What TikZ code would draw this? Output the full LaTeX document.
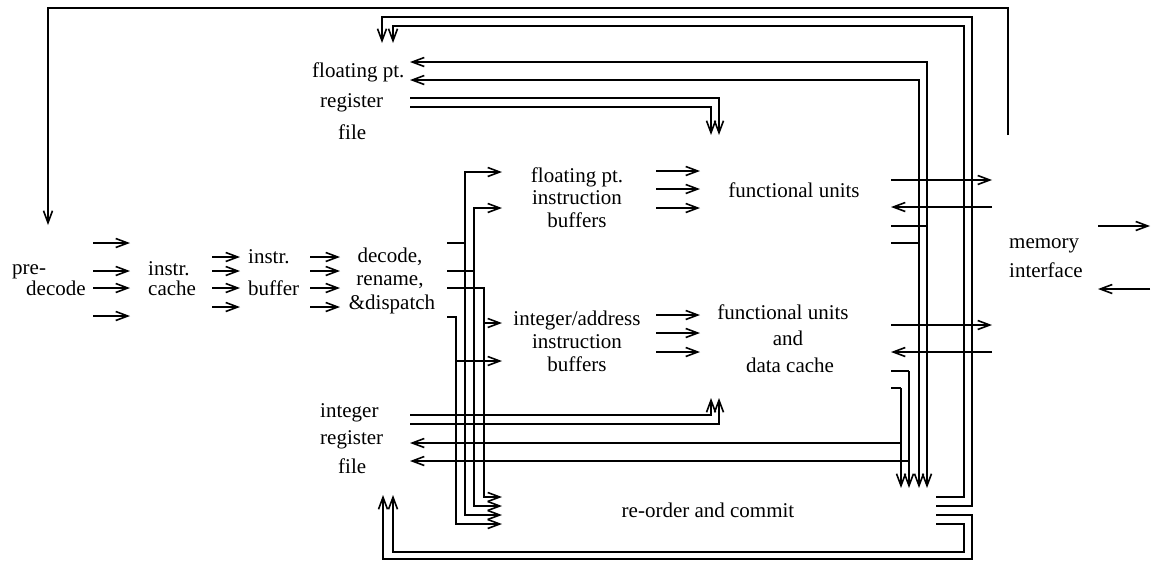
\documentclass[tikz,border=0pt]{standalone}
\usepackage{fontspec}
\setmainfont{Liberation Serif}
\usetikzlibrary{arrows.meta}
\begin{document}
\begin{tikzpicture}[x=1pt,y=-1pt,
  wire/.style={line width=1.6pt},
  arr/.style={wire,-{Straight Barb[length=12pt,width=9pt,line width=1.6pt]}},
  lbl/.style={font=\fontsize{21}{24}\selectfont,inner sep=0pt,anchor=base},
  lblw/.style={lbl,anchor=base west}]
\useasboundingbox (0,0) rectangle (1151,560);
\fill[white] (0,0) rectangle (1151,560);

% ---- text nodes ----
\node[lblw] (pre1) at (12,274) {pre-};
\node[lblw] (pre2) at (26,295) {decode};
\node[lblw] (ic1) at (148,275) {instr.};
\node[lblw] (ic2) at (148,295) {cache};
\node[lblw] (ib1) at (248,263) {instr.};
\node[lblw] (ib2) at (248,295) {buffer};
\node[lbl] (dd1) at (390,262) {decode,};
\node[lbl] (dd2) at (390,285) {rename,};
\node[lbl] (dd3) at (392,309) {\&dispatch};
\node[lblw] (fr1) at (312,77) {floating pt.};
\node[lblw] (fr2) at (320,107) {register};
\node[lblw] (fr3) at (338,139) {file};
\node[lbl] (fb1) at (577,182) {floating pt.};
\node[lbl] (fb2) at (577,204) {instruction};
\node[lbl] (fb3) at (577,227) {buffers};
\node[lbl] (ffu) at (794,197) {functional units};
\node[lbl] (ib1x) at (577,325) {integer/address};
\node[lbl] (ib2x) at (577,348) {instruction};
\node[lbl] (ib3x) at (577,371) {buffers};
\node[lbl] (ifu1) at (783,319) {functional units};
\node[lbl] (ifu2) at (788,345) {and};
\node[lbl] (ifu3) at (790,372) {data cache};
\node[lblw] (ir1) at (320,417) {integer};
\node[lblw] (ir2) at (320,444) {register};
\node[lblw] (ir3) at (338,473) {file};
\node[lbl] (rc) at (708,517) {re-order and commit};
\node[lblw] (mi1) at (1009,248) {memory};
\node[lblw] (mi2) at (1009,277) {interface};

% ---- front end ----
\foreach \y in {243,271,288,316} \draw[arr] (93,\y) -- (130,\y);
\foreach \y in {257,271,288,307} \draw[arr] (212,\y) -- (240,\y);
\foreach \y in {257,271,288,307} \draw[arr] (310,\y) -- (340,\y);

% ---- dispatch to buffers and commit ----
\draw[wire] (447,243) -- (465,243);
\draw[arr] (465,243) |- (502,172);
\draw[arr] (465,243) |- (502,515);
\draw[wire] (447,271) -- (474,271);
\draw[arr] (474,271) |- (502,208);
\draw[arr] (474,271) |- (502,506);
\draw[arr] (447,288) -| (484,288) |- (502,497);
\draw[arr] (484,323) -- (502,323);
\draw[arr] (447,317) -| (456,317) |- (502,524);
\draw[arr] (456,361) -- (502,361);

% ---- buffers to functional units ----
\foreach \y in {171,189,208,315,333,352} \draw[arr] (656,\y) -- (700,\y);

% ---- register files to functional units ----
\draw[arr] (410,98) -| (719,135);
\draw[arr] (410,107) -| (711,135);
\draw[arr] (410,415) -| (711,398);
\draw[arr] (410,424) -| (719,398);

% ---- functional units <-> memory ----
\draw[arr] (891,180) -- (992,180);
\draw[arr] (992,207) -- (891,207);
\draw[arr] (891,325) -- (992,325);
\draw[arr] (992,352) -- (891,352);
\draw[arr] (1098,226) -- (1150,226);
\draw[arr] (1150,289) -- (1098,289);

% ---- results to register files and commit ----
\draw[wire] (891,226) -- (927,226);
\draw[arr] (927,226) -- (927,488);
\draw[arr] (927,226) |- (410,62);
\draw[wire] (891,243) -- (919,243);
\draw[arr] (919,243) -- (919,488);
\draw[arr] (919,243) |- (410,80);
\draw[wire] (891,371) -- (909,371);
\draw[arr] (909,371) -- (909,488);
\draw[arr] (909,461) -- (410,461);
\draw[wire] (891,388) -- (901,388);
\draw[arr] (901,388) -- (901,488);
\draw[arr] (901,443) -- (410,443);

% ---- commit outputs ----
\draw[arr] (936,497) -- (964,497) -- (964,26) -- (393,26) -- (393,43);
\draw[arr] (936,506) -- (972,506) -- (972,17) -- (382,17) -- (382,43);
\draw[arr] (936,515) -- (972,515) -- (972,559) -- (383,559) -- (383,495);
\draw[arr] (936,524) -- (964,524) -- (964,552) -- (393,552) -- (393,495);

% ---- memory to pre-decode ----
\draw[arr] (1008,135) -- (1008,8) -- (48,8) -- (48,225);
\end{tikzpicture}
\end{document}
